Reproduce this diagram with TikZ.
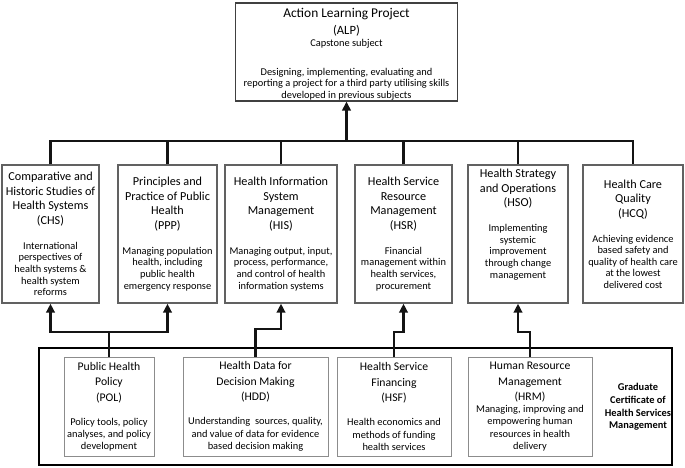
\documentclass[tikz,border=0pt]{standalone}
\usepackage{fontspec}
\setmainfont{Carlito}
\usetikzlibrary{arrows.meta}
\newcommand\ttlfont{\fontsize{12.2}{14}\selectfont}
\newcommand\btlfont{\fontsize{11.7}{13.5}\selectfont}
\begin{document}
\begin{tikzpicture}[x=1pt,y=-1pt,
  topbox/.style={draw=black!62, line width=1.3pt, minimum height=138pt, inner sep=0pt, align=center,
     font=\fontsize{10.4}{11.6}\selectfont, text=black},
  alpbox/.style={draw=black!75, line width=1.1pt, minimum height=98pt, minimum width=222pt, inner sep=0pt, align=center,
     font=\fontsize{10.4}{11.6}\selectfont, text=black},
  botbox/.style={draw=black!45, line width=0.9pt, minimum height=99pt, inner sep=0pt, align=center,
     font=\fontsize{10.4}{12.2}\selectfont, text=black},
  outerbox/.style={draw=black, line width=1.4pt, minimum width=633pt, minimum height=117pt, inner sep=0pt},
  gctext/.style={align=center, font=\fontsize{10.4}{12.7}\selectfont\bfseries, text=black, inner sep=0pt},
  conn/.style={line width=2.6pt, draw=black!92},
  arr/.style={conn, -{Triangle[width=8.5pt,length=9pt]}}
]
\useasboundingbox (0,0) rectangle (685,467);

% capstone
\node[alpbox] (ALP) at (346.5,52) {\rule{0pt}{14pt}{\fontsize{13.4}{15}\selectfont Action Learning Project}\\[5.4pt]
  {\fontsize{12.6}{14}\selectfont (ALP)}\\
  Capstone subject\\[17.4pt]
  Designing, implementing, evaluating and\\
  reporting a project for a third party utilising skills\\
  developed in previous subjects};

% core subjects
\node[topbox, minimum width=97pt] (CHS) at (50.5,234) {{\ttlfont Comparative and}\\[2.9pt]{\ttlfont Historic Studies of}\\[2.9pt]{\ttlfont Health Systems}\\[2.9pt]{\ttlfont (CHS)}\\[13.4pt]
  International\\perspectives of\\health systems \&\\health system\\reforms};
\node[topbox, minimum width=99pt] (PPP) at (167.5,234) {{\ttlfont Principles and}\\[2.9pt]{\ttlfont Practice of Public}\\[2.9pt]{\ttlfont Health}\\[2.9pt]{\ttlfont (PPP)}\\[13.4pt]
  Managing population\\health, including\\public health\\emergency response};
\node[topbox, minimum width=112pt] (HIS) at (281,234) {{\ttlfont Health Information}\\[2.9pt]{\ttlfont System}\\[2.9pt]{\ttlfont Management}\\[2.9pt]{\ttlfont (HIS)}\\[13.4pt]
  Managing output, input,\\process, performance,\\and control of health\\information systems};
\node[topbox, minimum width=97pt] (HSR) at (403.5,234) {{\ttlfont Health Service}\\[2.9pt]{\ttlfont Resource}\\[2.9pt]{\ttlfont Management}\\[2.9pt]{\ttlfont (HSR)}\\[13.4pt]
  Financial\\management within\\health services,\\procurement};
\node[topbox, minimum width=100pt] (HSO) at (518,234) {{\ttlfont Health Strategy}\\[2.9pt]{\ttlfont and Operations}\\[2.9pt]{\ttlfont (HSO)}\\[13.4pt]
  Implementing\\systemic\\improvement\\through change\\management\\[9pt]};
\node[topbox, minimum width=100pt] (HCQ) at (633,234) {{\ttlfont Health Care}\\[2.9pt]{\ttlfont Quality}\\[2.9pt]{\ttlfont (HCQ)}\\[13.4pt]
  Achieving evidence\\based safety and\\quality of health care\\at the lowest\\delivered cost};

% graduate certificate
\node[outerbox] (GC) at (355.5,406.5) {};
\node[botbox, minimum width=90pt] (POL) at (109,406.5) {{\btlfont Public Health}\\[3.3pt]{\btlfont Policy}\\[3.3pt]{\btlfont (POL)}\\[11.8pt]
  Policy tools, policy\\analyses, and policy\\development};
\node[botbox, minimum width=145pt] (HDD) at (255.5,406.5) {{\btlfont Health Data for}\\[3.3pt]{\btlfont Decision Making}\\[3.3pt]{\btlfont (HDD)}\\[11.8pt]
  Understanding\ \ sources, quality,\\and value of data for evidence\\based decision making};
\node[botbox, minimum width=114pt] (HSF) at (394,406.5) {{\btlfont Health Service}\\[3.3pt]{\btlfont Financing}\\[3.3pt]{\btlfont (HSF)}\\[11.8pt]
  Health economics and\\methods of funding\\health services};
\node[botbox, minimum width=124pt] (HRM) at (530,406.5) {{\btlfont Human Resource}\\[3.3pt]{\btlfont Management}\\[3.3pt]{\btlfont (HRM)}\\
  Managing, improving and\\empowering human\\resources in health\\delivery};
\node[gctext] (GCT) at (638,407) {Graduate\\Certificate of\\Health Services\\Management};

% connectors
\coordinate (bar) at (0,141);
\coordinate (busA) at (0,332);
\coordinate (busB) at (0,329);
\draw[conn] (CHS.north) -- (CHS.north |- bar) -- (HCQ.north |- bar) -- (HCQ.north);
\draw[conn] (PPP.north) -- (PPP.north |- bar);
\draw[conn] (HIS.north) -- (HIS.north |- bar);
\draw[conn] (HSR.north) -- (HSR.north |- bar);
\draw[conn] (HSO.north) -- (HSO.north |- bar);
\draw[arr] (ALP.south |- bar) -- (ALP.south);

\draw[arr] (POL.north) -- (POL.north |- busA) -| (CHS.south);
\draw[arr] (POL.north |- busA) -| (PPP.south);
\draw[arr] (HDD.north) -- (HDD.north |- busB) -| (HIS.south);
\draw[arr] (HSF.north) -- (HSF.north |- busA) -| (HSR.south);
\draw[arr] (HRM.north) -- (HRM.north |- busA) -| (HSO.south);
\end{tikzpicture}
\end{document}
